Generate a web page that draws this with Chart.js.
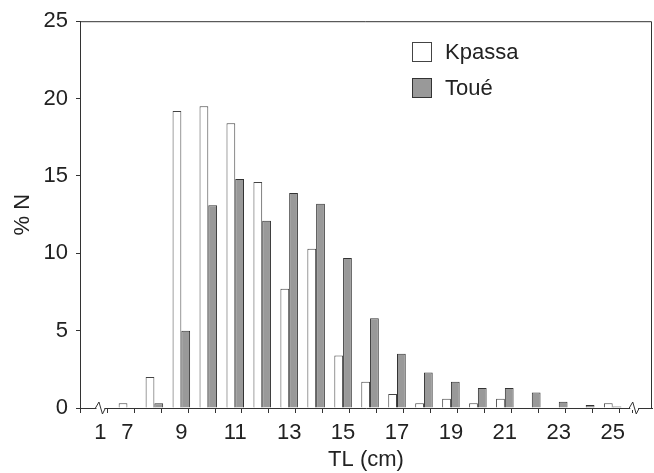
<!DOCTYPE html>
<html>
<head>
<meta charset="utf-8">
<script src="https://cdn.jsdelivr.net/npm/chart.js@4.4.1/dist/chart.umd.min.js"></script>
<style>
  html, body { margin: 0; padding: 0; background: #fff; }
  #wrap { width: 654px; height: 473px; position: relative; }
</style>
</head>
<body>
<div id="wrap"><canvas id="c" width="654" height="473"></canvas></div>
<script>
// ---- data ----
const categories = ['1','7','8','9','10','11','12','13','14','15','16','17','18','19','20','21','22','23','24','25'];
const shownLabels = ['1','7','9','11','13','15','17','19','21','23','25'];
const kpassa = [0, 0.3, 2.0, 19.2, 19.5, 18.4, 14.6, 7.7, 10.3, 3.4, 1.7, 0.9, 0.3, 0.6, 0.3, 0.6, 0, 0, 0, 0.3];
const toue   = [0, 0, 0.3, 5.0, 13.1, 14.8, 12.1, 13.9, 13.2, 9.7, 5.8, 3.5, 2.3, 1.7, 1.3, 1.3, 1.0, 0.4, 0.2, 0.1];
const yTicks = [0, 5, 10, 15, 20, 25];

const FONT = 'Liberation Sans, Arial, sans-serif';
const AX = '#333333';
const TXT = '#222222';

const toPoints = arr => arr.map((v, i) => ({ x: i + 1, y: v }));

const framePlugin = {
  id: 'frame',
  afterDraw(chart) {
    const { ctx, chartArea: a, scales } = chart;
    ctx.save();
    ctx.strokeStyle = AX;
    ctx.lineWidth = 1;
    ctx.beginPath();
    ctx.moveTo(a.left, a.top + 0.5);
    ctx.lineTo(a.right - 0.5, a.top + 0.5);
    ctx.lineTo(a.right - 0.5, a.bottom);
    ctx.stroke();
    // axis breaks
    const y = scales.y.getPixelForValue(0);
    [1.0, 20.8].forEach(v => {
      const cx = scales.x.getPixelForValue(v);
      ctx.fillStyle = '#fff';
      ctx.fillRect(cx - 4, y - 2, 8, 4);
      ctx.beginPath();
      ctx.moveTo(cx - 5, y);
      ctx.lineTo(cx - 1.5, y - 6);
      ctx.lineTo(cx + 2, y + 6);
      ctx.lineTo(cx + 5, y);
      ctx.strokeStyle = AX;
      ctx.stroke();
    });
    // legend
    ctx.font = '22px ' + FONT;
    ctx.textBaseline = 'middle';
    ctx.textAlign = 'left';
    chart.data.datasets.forEach((ds, i) => {
      const bx = 412, by = 42 + i * 36;
      ctx.fillStyle = ds.backgroundColor;
      ctx.fillRect(bx, by, 20, 20);
      ctx.strokeStyle = ds.borderColor;
      ctx.strokeRect(bx + 0.5, by + 0.5, 19, 19);
      ctx.fillStyle = TXT;
      ctx.fillText(ds.label, 445, by + 11);
    });
    ctx.restore();
  }
};

new Chart(document.getElementById('c'), {
  type: 'bar',
  data: {
    datasets: [
      { label: 'Kpassa', data: toPoints(kpassa), backgroundColor: '#ffffff', borderColor: '#444444', borderWidth: 1, borderSkipped: 'bottom' },
      { label: 'Toué', data: toPoints(toue), backgroundColor: '#999999', borderColor: '#333333', borderWidth: 1, borderSkipped: 'bottom' }
    ]
  },
  options: {
    responsive: false,
    animation: false,
    layout: { padding: { left: 0, right: 2, top: 17, bottom: 0 } },
    categoryPercentage: 1.3,
    barPercentage: 1.0,
    plugins: { legend: { display: false }, tooltip: { enabled: false } },
    scales: {
      x: {
        type: 'linear',
        min: 0.5,
        max: 21.2,
        afterFit(axis) { axis.height = 65; },
        afterBuildTicks(axis) {
          const t = [];
          for (let i = 0; i <= categories.length; i++) {
            t.push({ value: i + 0.5 });
            if (i < categories.length) t.push({ value: i + 1 });
          }
          axis.ticks = t;
        },
        ticks: {
          autoSkip: false,
          maxRotation: 0,
          padding: 7,
          color: TXT,
          font: { family: FONT, size: 22 },
          callback(value) {
            if (Number.isInteger(value)) {
              const lab = categories[value - 1];
              return shownLabels.includes(lab) ? lab : '';
            }
            return '';
          }
        },
        grid: {
          drawOnChartArea: false,
          drawTicks: true,
          tickLength: 5,
          color: ctx => (ctx.tick && Number.isInteger(ctx.tick.value)) ? 'rgba(0,0,0,0)' : AX
        },
        border: { color: AX, width: 1 },
        title: { display: true, text: 'TL (cm)', color: TXT, font: { family: FONT, size: 22 }, padding: { top: 0, bottom: 0 } }
      },
      y: {
        min: 0,
        max: 25,
        afterFit(axis) { axis.width = 80; },
        afterBuildTicks(axis) { axis.ticks = yTicks.map(v => ({ value: v })); },
        ticks: { color: TXT, padding: 8, font: { family: FONT, size: 22 } },
        grid: { drawOnChartArea: false, drawTicks: true, tickLength: 4, color: AX },
        border: { color: AX, width: 1 },
        title: { display: true, text: '% N', color: TXT, font: { family: FONT, size: 22 }, padding: { top: 10, bottom: 0 } }
      }
    }
  },
  plugins: [framePlugin]
});
</script>
</body>
</html>
